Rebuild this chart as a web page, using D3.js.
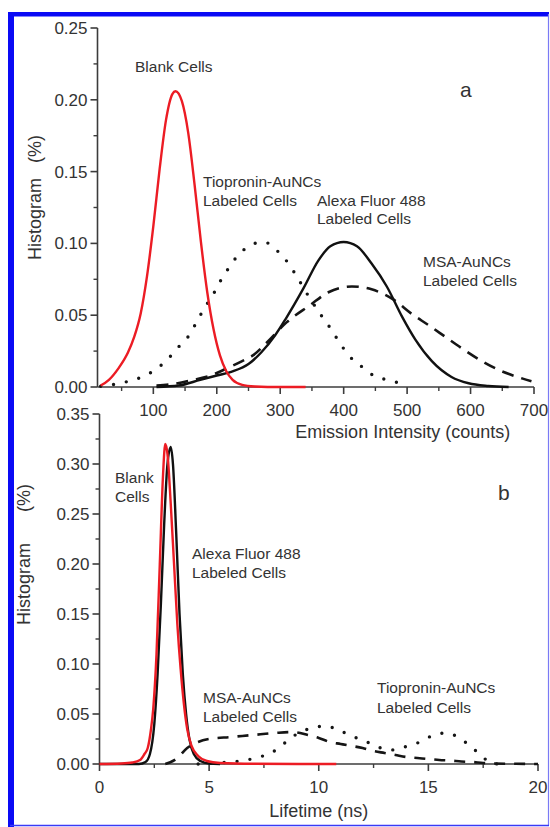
<!DOCTYPE html>
<html>
<head>
<meta charset="utf-8">
<script src="https://cdn.jsdelivr.net/npm/d3@7"></script>
<style>
  html, body { margin: 0; padding: 0; background: #fff; }
  svg { display: block; }
  text { font-family: "Liberation Sans", Arial, sans-serif; fill: #333; }
</style>
</head>
<body>
<svg id="fig" width="550" height="827"></svg>
<script>
// ---- Panel a: emission intensity histograms (counts, %) ----
const aBlank = [[17,0.001],[30,0.005],[45,0.013],[60,0.024],[70,0.035],[80,0.051],[90,0.077],[100,0.112],[110,0.152],[120,0.186],[130,0.204],[135,0.206],[145,0.199],[155,0.177],[165,0.141],[175,0.101],[185,0.066],[195,0.040],[205,0.022],[215,0.011],[225,0.005],[240,0.0015],[260,0.0003],[280,0],[340,0]];
const aTiopronin = [[17,0.0005],[40,0.002],[61,0.004],[82,0.007],[103,0.012],[124,0.020],[142,0.029],[158,0.037],[169,0.046],[182,0.056],[195,0.065],[206,0.074],[219,0.083],[234,0.092],[255,0.099],[270,0.101],[282,0.100],[295,0.095],[313,0.086],[326,0.077],[345,0.063],[366,0.049],[379,0.041],[392,0.032],[408,0.022],[429,0.014],[447,0.008],[468,0.005],[489,0.0026],[500,0.001]];
const aAlexa = [[105,0],[140,0.001],[174,0.005],[200,0.008],[226,0.011],[250,0.016],[270,0.024],[292,0.036],[308,0.047],[337,0.069],[360,0.088],[379,0.098],[400,0.101],[421,0.098],[444,0.086],[468,0.070],[492,0.049],[513,0.033],[539,0.018],[570,0.007],[597,0.0026],[628,0.0007],[660,0]];
const aMSA = [[105,0.001],[130,0.002],[163,0.005],[190,0.008],[216,0.013],[240,0.018],[257,0.022],[279,0.031],[310,0.045],[347,0.057],[376,0.066],[413,0.070],[444,0.068],[478,0.061],[507,0.051],[534,0.043],[560,0.035],[586,0.027],[618,0.018],[649,0.011],[681,0.006],[696,0.004]];
const aXTicks = [100, 200, 300, 400, 500, 600, 700];
const aYTicks = [0, 0.05, 0.10, 0.15, 0.20, 0.25];

// ---- Panel b: lifetime histograms (ns, %) ----
const bBlank = [[0,0],[1.0,0.0005],[1.5,0.0015],[1.85,0.004],[2.05,0.010],[2.2,0.016],[2.35,0.035],[2.45,0.055],[2.6,0.11],[2.75,0.20],[2.9,0.29],[3.0,0.32],[3.1,0.31],[3.25,0.26],[3.4,0.20],[3.55,0.14],[3.7,0.095],[3.85,0.060],[4.0,0.035],[4.2,0.018],[4.5,0.008],[4.9,0.003],[5.5,0.001],[7,0.0002],[10.8,0]];
const bAlexa = [[0,0],[1.8,0],[2.1,0.002],[2.3,0.010],[2.5,0.040],[2.65,0.090],[2.8,0.16],[2.95,0.24],[3.1,0.30],[3.25,0.317],[3.35,0.30],[3.5,0.23],[3.65,0.15],[3.8,0.09],[3.95,0.05],[4.1,0.025],[4.3,0.010],[4.6,0.003],[5.0,0.0005],[5.5,0]];
const bMSA = [[3.0,0],[3.5,0.005],[4.0,0.016],[4.5,0.022],[5.0,0.025],[6.0,0.027],[7.0,0.029],[8.0,0.031],[8.8,0.032],[9.5,0.029],[10.0,0.026],[10.5,0.022],[11.0,0.020],[11.5,0.018],[12.0,0.016],[12.5,0.013],[13.0,0.011],[13.5,0.009],[14.0,0.007],[14.5,0.006],[15.0,0.005],[15.5,0.004],[16.0,0.0035],[16.5,0.0025],[17.0,0.002],[17.5,0.001],[18.0,0.0005],[19.0,0.0002],[20.0,0]];
const bTiopronin = [[4.5,0],[5.3,0.001],[6.0,0.002],[6.7,0.004],[7.3,0.007],[7.9,0.012],[8.45,0.021],[9.0,0.030],[9.7,0.036],[10.3,0.038],[10.9,0.034],[11.5,0.028],[12.2,0.022],[12.7,0.017],[13.3,0.014],[13.9,0.017],[14.5,0.021],[15.15,0.028],[15.75,0.031],[16.35,0.027],[16.95,0.017],[17.5,0.007],[17.8,0.001],[18.2,0]];
const bXTicks = [0, 5, 10, 15, 20];
const bYTicks = [0, 0.05, 0.10, 0.15, 0.20, 0.25, 0.30, 0.35];

const svg = d3.select("#fig");
const AXIS = "#3c3c3c";

// page frame
svg.append("rect").attr("x", 8).attr("y", 12).attr("width", 6).attr("height", 815).attr("fill", "#0a0af5");
svg.append("rect").attr("x", 8).attr("y", 12).attr("width", 541).attr("height", 4.5).attr("fill", "#0a0af5");
svg.append("line").attr("x1", 548.5).attr("x2", 548.5).attr("y1", 14).attr("y2", 826).attr("stroke", "#7a7af5").attr("stroke-width", 1.2);
svg.append("line").attr("x1", 10).attr("x2", 549).attr("y1", 825.5).attr("y2", 825.5).attr("stroke", "#3a3af5").attr("stroke-width", 1.6);

function drawAxes(g, x, y, xTicks, yTicks, xMinor, yMinor, xFmt, yFmt) {
  const [x0, x1] = x.range();
  const [y0, y1] = y.range();
  // x axis
  g.append("line").attr("x1", x0).attr("x2", x1).attr("y1", y0).attr("y2", y0)
    .attr("stroke", AXIS).attr("stroke-width", 1.6);
  g.append("line").attr("x1", x0).attr("x2", x0).attr("y1", y0).attr("y2", y1)
    .attr("stroke", AXIS).attr("stroke-width", 1.6);
  xMinor.forEach(v => g.append("line").attr("x1", x(v)).attr("x2", x(v))
    .attr("y1", y0).attr("y2", y0 + 4).attr("stroke", AXIS).attr("stroke-width", 1.4));
  xTicks.forEach(v => {
    g.append("line").attr("x1", x(v)).attr("x2", x(v)).attr("y1", y0).attr("y2", y0 + 7)
      .attr("stroke", AXIS).attr("stroke-width", 1.6);
    g.append("text").attr("x", x(v)).attr("y", y0 + 29).attr("text-anchor", "middle")
      .attr("font-size", 17).text(xFmt(v));
  });
  yMinor.forEach(v => g.append("line").attr("x1", x0 - 4).attr("x2", x0)
    .attr("y1", y(v)).attr("y2", y(v)).attr("stroke", AXIS).attr("stroke-width", 1.4));
  yTicks.forEach(v => {
    g.append("line").attr("x1", x0 - 7).attr("x2", x0).attr("y1", y(v)).attr("y2", y(v))
      .attr("stroke", AXIS).attr("stroke-width", 1.6);
    g.append("text").attr("x", x0 - 10).attr("y", y(v) + 6).attr("text-anchor", "end")
      .attr("font-size", 17).text(yFmt(v));
  });
}

function curve(g, data, x, y, style) {
  const line = d3.line().x(d => x(d[0])).y(d => y(d[1])).curve(d3.curveMonotoneX);
  const p = g.append("path").attr("d", line(data)).attr("fill", "none")
    .attr("stroke", style.color).attr("stroke-width", style.width)
    .attr("stroke-linejoin", "round");
  if (style.dash) p.attr("stroke-dasharray", style.dash);
  if (style.cap) p.attr("stroke-linecap", style.cap);
}

function label(g, x, y, lines, size, lh) {
  lines.forEach((t, i) => g.append("text").attr("x", x).attr("y", y + i * lh)
    .attr("font-size", size).text(t));
}

function yTitle(g, xBase, yHist, yPct) {
  g.append("text").attr("transform", `translate(${xBase},${yHist}) rotate(-90)`)
    .attr("font-size", 18).text("Histogram");
  g.append("text").attr("transform", `translate(${xBase},${yPct}) rotate(-90)`)
    .attr("font-size", 18).text("(%)");
}

const fmt2 = d3.format(".2f");
const DOT = { color: "#151515", width: 3.4, dash: "0,13", cap: "round" };
const DASH = { color: "#151515", width: 2.6, dash: "12,8" };
const SOLID = { color: "#111", width: 2.4 };
const RED = { color: "#ec1c24", width: 2.4 };

// ---------- panel a ----------
const ga = svg.append("g");
const xa = d3.scaleLinear().domain([12, 700]).range([97.5, 534]);
const ya = d3.scaleLinear().domain([0, 0.25]).range([387, 28]);
drawAxes(ga, xa, ya, aXTicks, aYTicks,
  [50, 150, 250, 350, 450, 550, 650], d3.range(0.025, 0.25, 0.05),
  d => String(d), fmt2);
curve(ga, aTiopronin, xa, ya, DOT);
curve(ga, aMSA, xa, ya, DASH);
curve(ga, aAlexa, xa, ya, SOLID);
curve(ga, aBlank, xa, ya, RED);

label(ga, 135, 72, ["Blank Cells"], 15.5, 18.5);
label(ga, 203, 187, ["Tiopronin-AuNCs", "Labeled Cells"], 15.5, 19);
label(ga, 317, 206, ["Alexa Fluor 488", "Labeled Cells"], 15.5, 18);
label(ga, 423, 267, ["MSA-AuNCs", "Labeled Cells"], 15.5, 18.5);
ga.append("text").attr("x", 460).attr("y", 97).attr("font-size", 21).text("a");
ga.append("text").attr("x", xa(493)).attr("y", 438).attr("text-anchor", "middle")
  .attr("font-size", 18).text("Emission Intensity (counts)");
yTitle(ga, 41, 260, 163);

// ---------- panel b ----------
const gb = svg.append("g");
const xb = d3.scaleLinear().domain([0, 20]).range([99.5, 538]);
const yb = d3.scaleLinear().domain([0, 0.35]).range([764, 414]);
drawAxes(gb, xb, yb, bXTicks, bYTicks,
  [2.5, 7.5, 12.5, 17.5], d3.range(0.025, 0.35, 0.05),
  d => String(d), fmt2);
curve(gb, bTiopronin, xb, yb, DOT);
curve(gb, bMSA, xb, yb, { color: "#151515", width: 2.6, dash: "11,9" });
curve(gb, bAlexa, xb, yb, SOLID);
curve(gb, bBlank, xb, yb, RED);

label(gb, 115, 483, ["Blank", "Cells"], 15.5, 18.5);
label(gb, 192, 559, ["Alexa Fluor 488", "Labeled Cells"], 15.5, 19);
label(gb, 203, 703, ["MSA-AuNCs", "Labeled Cells"], 15.5, 18.5);
label(gb, 377, 693, ["Tiopronin-AuNCs", "Labeled Cells"], 15.5, 20);
gb.append("text").attr("x", 498).attr("y", 500).attr("font-size", 21).text("b");
gb.append("text").attr("x", xb(10)).attr("y", 817).attr("text-anchor", "middle")
  .attr("font-size", 18).text("Lifetime (ns)");
yTitle(gb, 30, 625, 512);
</script>
</body>
</html>
